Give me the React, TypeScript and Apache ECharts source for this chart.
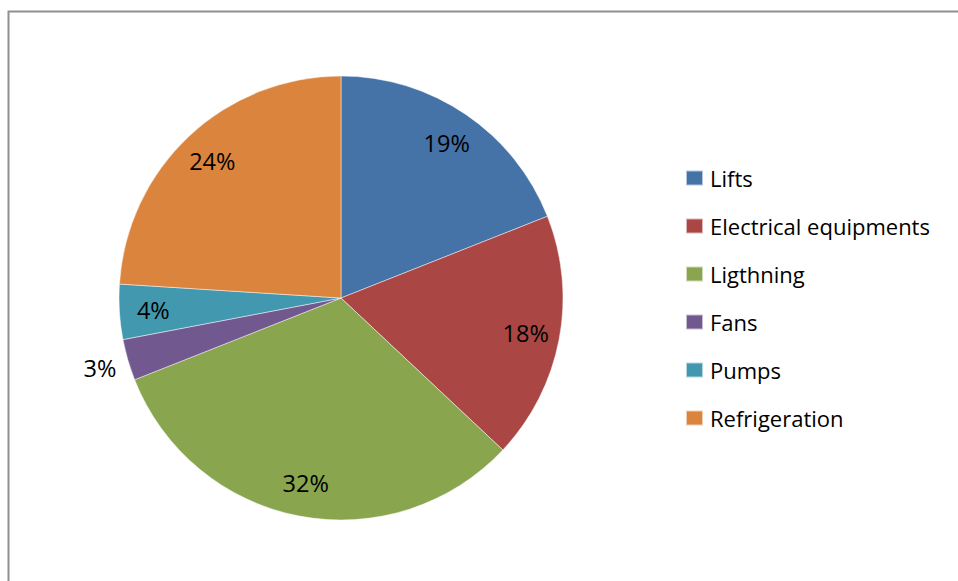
import React, { useEffect, useRef } from "react";
import * as echarts from "echarts";

const categories = ["Lifts", "Electrical equipments", "Ligthning", "Fans", "Pumps", "Refrigeration"];
const shares = [19, 18, 32, 3, 4, 24];
const colors = ["#4572A7", "#AA4643", "#89A54E", "#71588F", "#4198AF", "#DB843D"];
// slices whose percentage sits outside the pie
const outsideLabels = ["Fans"];

const FONT = "'Open Sans', Lato, sans-serif";
const CX = 341;
const CY = 298;
const R = 222;

export default function App() {
  const ref = useRef<HTMLDivElement>(null);

  useEffect(() => {
    if (!ref.current) return;
    const chart = echarts.init(ref.current, undefined, { renderer: "svg" });
    const data = categories.map((name, i) => ({ name, value: shares[i] }));
    const labelStyle = {
      color: "#000",
      fontFamily: FONT,
      fontSize: 23.5,
      formatter: (p: any) => `${p.value}%`,
    };
    const overlay = (radius: [number, number], showFor: (n: string) => boolean) => ({
      type: "pie",
      center: [CX, CY],
      radius,
      startAngle: 90,
      clockwise: true,
      silent: true,
      avoidLabelOverlap: false,
      itemStyle: { color: "transparent", borderWidth: 0 },
      emphasis: { disabled: true },
      labelLine: { show: false },
      data: data.map((d) => ({
        ...d,
        label: { show: showFor(d.name), position: "inside", ...labelStyle },
      })),
    });

    chart.setOption({
      animation: false,
      backgroundColor: "#fff",
      color: colors,
      graphic: [
        {
          type: "rect",
          shape: { x: 8.5, y: 11.5, width: 1000, height: 700 },
          style: { fill: "none", stroke: "#8f8f8f", lineWidth: 2 },
          silent: true,
        },
      ],
      legend: {
        orient: "vertical",
        left: 685,
        top: 167,
        padding: 0,
        itemWidth: 17,
        itemHeight: 15,
        itemGap: 26,
        icon: "rect",
        textStyle: { fontFamily: FONT, fontSize: 22, lineHeight: 22, color: "#000", padding: [0, 0, 0, 2] },
        data: categories.map((name, i) => ({ name, itemStyle: { color: colors[i] } })),
        selectedMode: false,
      },
      series: [
        {
          type: "pie",
          center: [CX, CY],
          radius: [0, R],
          startAngle: 90,
          clockwise: true,
          silent: true,
          itemStyle: { borderColor: "rgba(255,255,255,0.6)", borderWidth: 0.8 },
          label: { show: false },
          labelLine: { show: false },
          emphasis: { disabled: true },
          data: data.map((d, i) => ({ ...d, itemStyle: { color: colors[i] } })),
        },
        overlay([158, 212], (n) => !outsideLabels.includes(n)),
        overlay([236, 260], (n) => outsideLabels.includes(n)),
      ],
    });
    return () => chart.dispose();
  }, []);

  return (
    <div
      ref={ref}
      style={{ position: "fixed", left: 0, top: 0, width: 958, height: 581 }}
    />
  );
}
